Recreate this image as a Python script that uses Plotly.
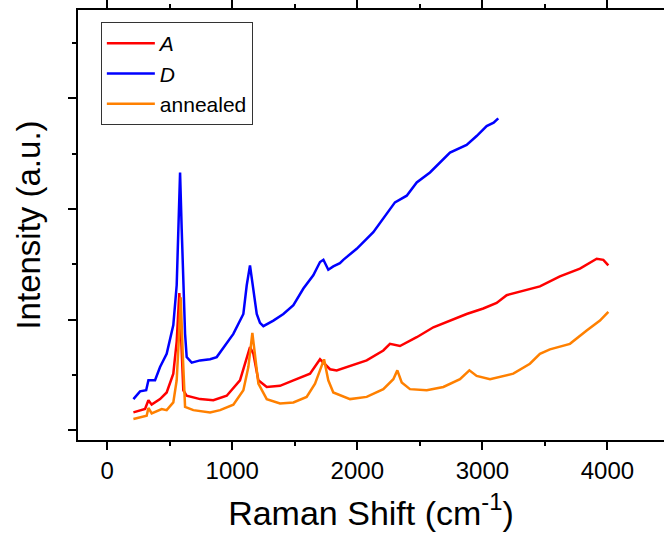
import plotly.graph_objects as go

# Raman shift (cm^-1) and intensity (a.u.)
x_D = [210, 263, 312, 330, 383, 423, 476, 516, 529, 556, 569, 583, 596, 609, 623, 636, 676, 743, 823, 876, 956,
       1009, 1089, 1116, 1142, 1169, 1196, 1222, 1249, 1329, 1409, 1489, 1569, 1648, 1702, 1729, 1768, 1808,
       1861, 1888, 1995, 2128, 2208, 2301, 2395, 2475, 2581, 2661, 2741, 2874, 2954, 3034, 3090, 3127]
y_D = [0.28, 0.35, 0.36, 0.45, 0.45, 0.57, 0.69, 0.90, 0.95, 1.31, 1.82, 2.33, 1.82, 1.31, 0.87, 0.66, 0.61, 0.63, 0.64, 0.66, 0.78,
       0.87, 1.05, 1.31, 1.49, 1.28, 1.05, 0.97, 0.94, 0.99, 1.05, 1.13, 1.28, 1.40, 1.52, 1.54, 1.45, 1.48,
       1.51, 1.54, 1.64, 1.79, 1.91, 2.06, 2.12, 2.24, 2.33, 2.42, 2.51, 2.58, 2.66, 2.75, 2.78, 2.82]

x_A = [210, 303, 330, 356, 423, 476, 529, 556, 577, 595, 609, 636, 743, 849, 956, 1062, 1116, 1142, 1169, 1209,
       1276, 1382, 1489, 1622, 1702, 1782, 1835, 1942, 2075, 2208, 2261, 2341, 2475, 2608, 2741, 2874,
       3007, 3114, 3194, 3300, 3460, 3620, 3780, 3914, 3967, 4007]
y_A = [0.16, 0.19, 0.27, 0.23, 0.28, 0.34, 0.51, 0.80, 1.24, 0.80, 0.36, 0.31, 0.28, 0.27, 0.31, 0.45, 0.66, 0.75, 0.69, 0.45,
       0.39, 0.40, 0.45, 0.51, 0.64, 0.55, 0.54, 0.58, 0.63, 0.72, 0.78, 0.76, 0.84, 0.93, 0.99, 1.05,
       1.10, 1.15, 1.22, 1.25, 1.30, 1.39, 1.46, 1.55, 1.54, 1.49]

x_ann = [210, 316, 330, 356, 436, 476, 529, 556, 572, 588, 604, 623, 689, 743, 823, 903, 1009, 1089, 1129, 1161,
         1182, 1209, 1276, 1382, 1489, 1595, 1662, 1715, 1734, 1768, 1808, 1942, 2075, 2208, 2288, 2320,
         2355, 2421, 2555, 2688, 2821, 2896, 2954, 3061, 3141, 3247, 3380, 3460, 3540, 3700, 3834, 3940, 4007]
y_ann = [0.10, 0.13, 0.20, 0.15, 0.19, 0.18, 0.25, 0.45, 0.80, 1.20, 0.70, 0.21, 0.18, 0.17, 0.16, 0.18, 0.23, 0.36, 0.57, 0.88,
         0.66, 0.42, 0.28, 0.24, 0.25, 0.30, 0.42, 0.58, 0.64, 0.45, 0.34, 0.28, 0.30, 0.37, 0.46, 0.54,
         0.43, 0.37, 0.36, 0.39, 0.46, 0.54, 0.49, 0.46, 0.48, 0.51, 0.60, 0.69, 0.73, 0.78, 0.90, 0.99, 1.07]

fig = go.Figure()
fig.add_trace(go.Scatter(x=x_A, y=y_A, mode="lines", name="<i>A</i>", line=dict(color="#FF0000", width=2.5)))
fig.add_trace(go.Scatter(x=x_D, y=y_D, mode="lines", name="<i>D</i>", line=dict(color="#0000FF", width=2.5)))
fig.add_trace(go.Scatter(x=x_ann, y=y_ann, mode="lines", name="annealed", line=dict(color="#FF8000", width=2.5)))

fig.update_layout(
    width=664, height=539,
    margin=dict(l=78, r=0, t=5, b=99),
    paper_bgcolor="white", plot_bgcolor="white",
    font=dict(family="Arial, Liberation Sans, sans-serif", color="black"),
    showlegend=True,
    legend=dict(x=0.039, y=0.972, xanchor="left", yanchor="top",
                bordercolor="#333333", borderwidth=1, bgcolor="white",
                font=dict(size=21), tracegroupgap=0, itemwidth=48),
    xaxis=dict(range=[-233, 4452], showgrid=False, zeroline=False,
               showline=True, linecolor="black", linewidth=2, mirror="allticks",
               ticks="outside", ticklen=8, tickwidth=2, tickcolor="black",
               dtick=1000, tick0=0, tickfont=dict(size=24),
               minor=dict(ticks="outside", ticklen=4, tickwidth=2, dtick=500, tick0=0, tickcolor="black"),
               title=dict(text="Raman Shift (cm<sup>-1</sup>)", font=dict(size=34), standoff=18)),
    yaxis=dict(range=[-0.09, 3.80], showgrid=False, zeroline=False,
               showline=True, linecolor="black", linewidth=2, mirror=False,
               ticks="outside", ticklen=8, tickwidth=2, tickcolor="black",
               dtick=1, tick0=0, showticklabels=False,
               minor=dict(ticks="outside", ticklen=4, tickwidth=2, dtick=0.5, tick0=0, tickcolor="black"),
               title=dict(text="Intensity (a.u.)", font=dict(size=33), standoff=17)),
)

fig.write_html("out.html")
